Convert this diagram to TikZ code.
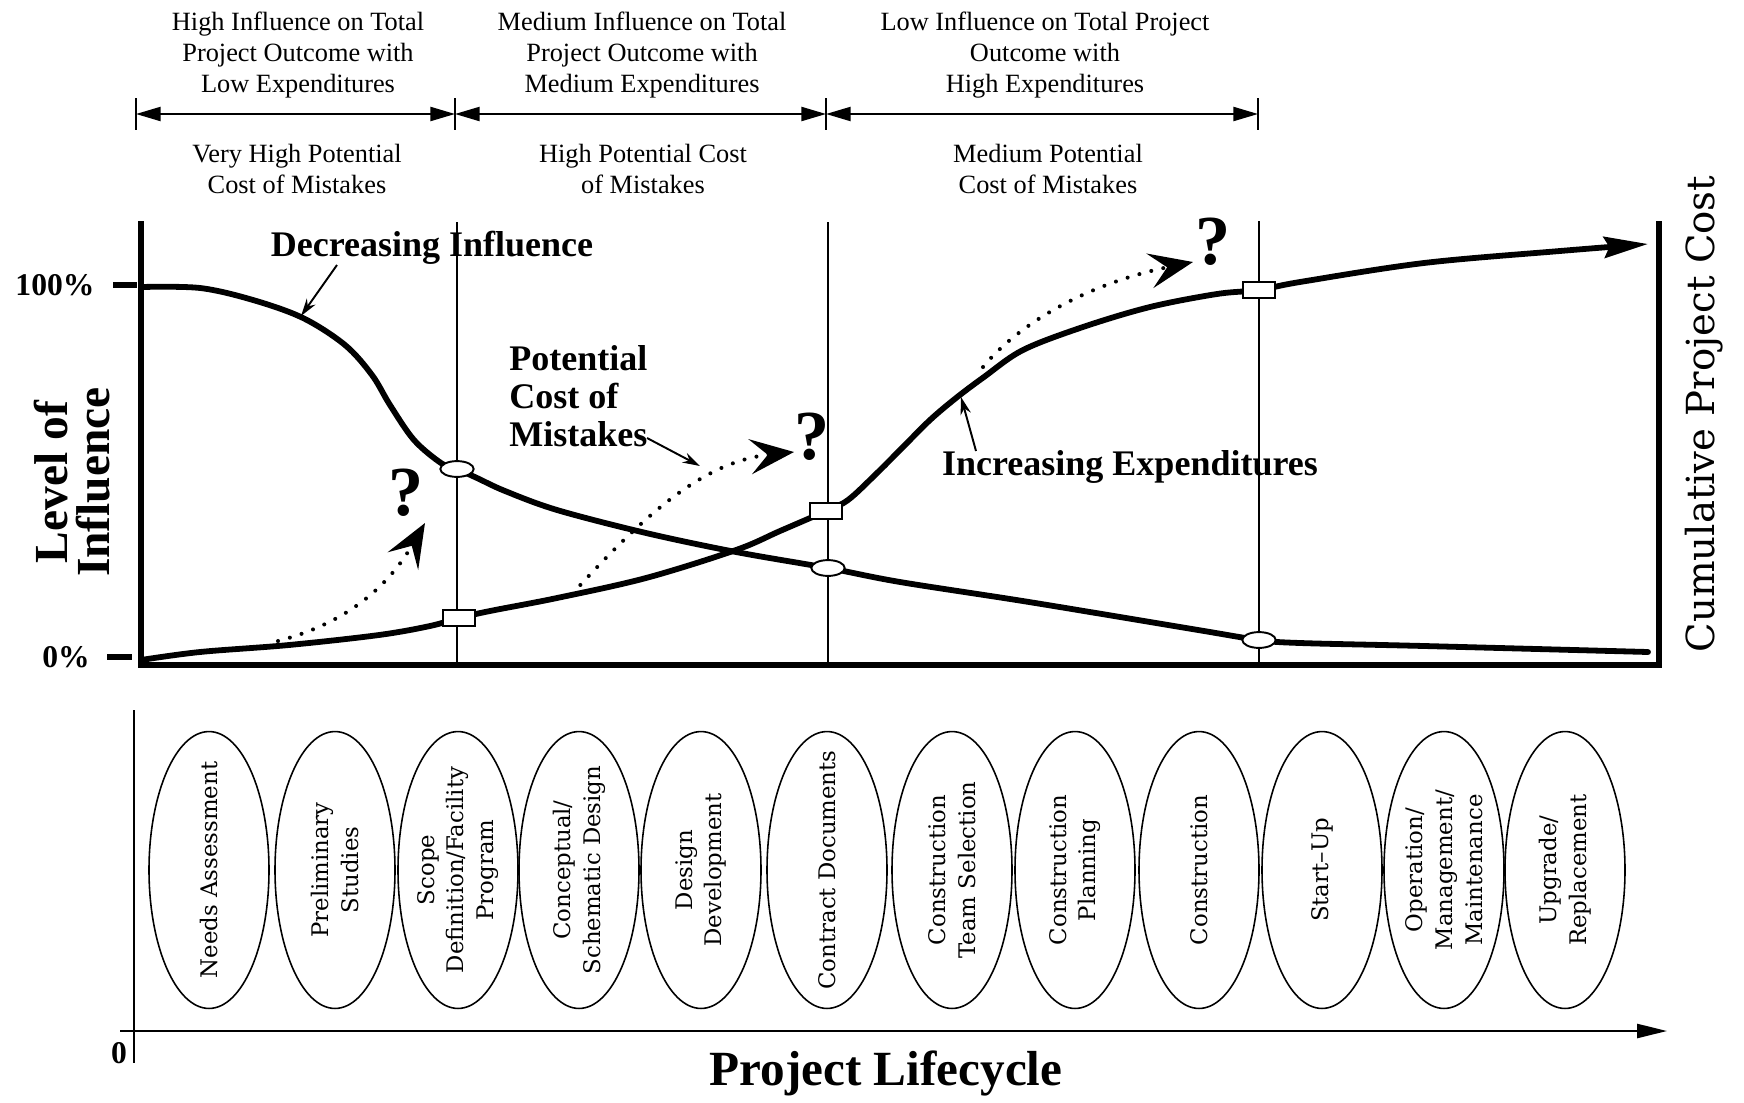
\documentclass[tikz,border=0pt]{standalone}
\usepackage{fontspec}
\setmainfont{Liberation Serif}
\newfontfamily\dvs{DejaVu Serif}
\usetikzlibrary{arrows.meta,shapes.geometric}
\begin{document}
\begin{tikzpicture}[x=0.02cm,y=-0.02cm,
  toptext/.style={align=center,inner sep=0,font=\fontsize{15}{17.6}\selectfont},
  boldlab/.style={inner sep=0,font=\fontsize{20.5}{21.6}\selectfont\bfseries},
  qmark/.style={inner sep=0,font=\fontsize{40}{40}\selectfont\bfseries},
  pctlab/.style={inner sep=0,font=\fontsize{18}{18}\selectfont\bfseries},
  dimtick/.style={line width=1.1pt},
  dimarrow/.style={line width=1.1pt,{Triangle[length=14pt,width=8pt]}-{Triangle[length=14pt,width=8pt]}},
  plotaxis/.style={line width=3pt,line join=miter},
  vline/.style={line width=1.1pt},
  curve/.style={line width=3.3pt,line cap=round,line join=round},
  infmark/.style={ellipse,draw,fill=white,line width=1.1pt,inner sep=0,minimum width=19pt,minimum height=9pt},
  expmark/.style={rectangle,draw,fill=white,line width=1.1pt,inner sep=0,minimum width=18.5pt,minimum height=9pt},
  pointer/.style={line width=1.1pt,-{Stealth[length=10pt,width=6pt]}},
  dotarrow/.style={line width=2.3pt,line cap=round,dash pattern=on 0pt off 7pt,-{Stealth[length=25pt,width=20pt,inset=10pt]}},
  phase/.style={ellipse,draw,line width=0.9pt,inner sep=0,minimum width=68.3pt,minimum height=157.6pt},
  phasetext/.style={rotate=90,align=center,inner sep=0,font=\dvs\fontsize{13}{17}\selectfont},
  thinaxis/.style={line width=1.2pt}
]
\useasboundingbox (0,0) rectangle (1744,1102);

% ---------- top texts ----------
\node[toptext] (h1) at (298,55) {High Influence on Total\\Project Outcome with\\Low Expenditures};
\node[toptext] (h2) at (642,55) {Medium Influence on Total\\Project Outcome with\\Medium Expenditures};
\node[toptext] (h3) at (1045,55) {Low Influence on Total Project\\Outcome with\\High Expenditures};
\node[toptext] (l1) at (297,169) {Very High Potential\\Cost of Mistakes};
\node[toptext] (l2) at (643,169) {High Potential Cost\\of Mistakes};
\node[toptext] (l3) at (1048,169) {Medium Potential\\Cost of Mistakes};

\coordinate (d1) at (136,114);
\coordinate (d2) at (455,114);
\coordinate (d3) at (826,114);
\coordinate (d4) at (1258,114);
\foreach \c in {d1,d2,d3,d4} \draw[dimtick] ([yshift=16*0.02cm]\c) -- ([yshift=-16*0.02cm]\c);
\draw[dimarrow] (d1) -- (d2);
\draw[dimarrow] (d2) -- (d3);
\draw[dimarrow] (d3) -- (d4);

% ---------- upper plot ----------
\draw[vline] (457,222) -- (457,665);
\draw[vline] (828,222) -- (828,665);
\draw[vline] (1259,221) -- (1259,665);
\draw[plotaxis] (141,221) -- (141,665) -- (1659,665) -- (1659,221);
\draw[line width=3pt] (113,285) -- (137,285);
\draw[line width=3pt] (107,657) -- (132,657);
\node[pctlab] (p100) at (55,285) {100\%};
\node[pctlab] (p0) at (66,657) {0\%};

\node[inner sep=0,rotate=90,align=center,font=\fontsize{27}{24}\selectfont\bfseries] (loi) at (72,482) {Level of\\Influence};
\node[inner sep=0,rotate=90,font=\dvs\fontsize{22}{26}\selectfont] (cpc) at (1704,414) {Cumulative Project Cost};

% influence curve
\draw[curve] plot[smooth,tension=0.55] coordinates {(141,287) (200,288) (253,300) (303,318) (345,345) (372,375) (390,405) (414,440) (441,463) (457,469) (477,478) (505,491) (557,510) (646,533) (736,552) (828,568) (900,582) (1029,602) (1198,630) (1259,640) (1300,643) (1424,646) (1648,652)};
% expenditure curve
\draw[curve,-{Stealth[length=25pt,width=12pt,inset=3pt]}] plot[smooth,tension=0.55] coordinates {(141,660) (200,652) (289,645) (379,635) (430,626) (459,618) (490,611) (557,598) (646,578) (736,550) (780,531) (826,511) (848,500) (875,475) (903,447) (930,420) (956,398) (984,377) (1023,350) (1083,327) (1150,307) (1217,294) (1259,290) (1300,282) (1424,263) (1560,251) (1648,244)};

\node[infmark] (m1) at (457,469) {};
\node[infmark] (m2) at (828,568) {};
\node[infmark] (m3) at (1259,640) {};
\node[expmark] (s1) at (459,618) {};
\node[expmark] (s2) at (826,511) {};
\node[expmark] (s3) at (1259,290) {};

% labels and pointers
\node[boldlab] (dec) at (432,248) {Decreasing Influence};
\coordinate (decs) at (337,265);
\coordinate (dece) at (301,316);
\draw[pointer] (decs) -- (dece);

\node[boldlab,align=left,anchor=west] (pcm) at (509,396) {Potential\\Cost of\\Mistakes};
\coordinate (pcms) at (647,438);
\coordinate (pcme) at (700,466);
\draw[pointer] (pcms) -- (pcme);

\node[boldlab] (inc) at (1130,467) {Increasing Expenditures};
\coordinate (incs) at (976,451);
\coordinate (ince) at (961,397);
\draw[pointer] (incs) -- (ince);

\node[qmark] (q1) at (406,493) {?};
\node[qmark] (q2) at (812,437) {?};
\node[qmark] (q3) at (1213,242) {?};

\coordinate (a1s) at (278,641);
\coordinate (a1e) at (425,523);
\draw[dotarrow] (a1s) .. controls (340,625) and (385,592) .. (a1e);
\coordinate (a2s) at (572,594);
\coordinate (a2e) at (794,452);
\draw[dotarrow] (a2s) .. controls (640,520) and (700,462) .. (a2e);
\coordinate (a3s) at (983,367);
\coordinate (a3e) at (1193,262);
\draw[dotarrow] (a3s) .. controls (1020,322) and (1090,283) .. (a3e);

% ---------- lower part ----------
\draw[thinaxis] (134,710) -- (134,1063);
\draw[thinaxis,-{Triangle[length=17pt,width=8pt]}] (120,1031) -- (1667,1031);
\node[pctlab] (zero) at (119,1053) {0};
\node[inner sep=0,font=\fontsize{28}{28}\selectfont\bfseries] (plc) at (886,1073) {Project Lifecycle};

\node[phase] (e1) at (209,870) {};
\node[phase] (e2) at (335,870) {};
\node[phase] (e3) at (458,870) {};
\node[phase] (e4) at (579,870) {};
\node[phase] (e5) at (701,870) {};
\node[phase] (e6) at (827,870) {};
\node[phase] (e7) at (952,870) {};
\node[phase] (e8) at (1075,870) {};
\node[phase] (e9) at (1199,870) {};
\node[phase] (e10) at (1322,870) {};
\node[phase] (e11) at (1444,870) {};
\node[phase] (e12) at (1565,870) {};
\node[phasetext] (t1) at (e1) {Needs Assessment};
\node[phasetext] (t2) at (e2) {Preliminary\\Studies};
\node[phasetext] (t3) at (e3) {Scope\\Definition/Facility\\Program};
\node[phasetext] (t4) at (e4) {Conceptual/\\Schematic Design};
\node[phasetext] (t5) at (e5) {Design\\Development};
\node[phasetext] (t6) at (e6) {Contract Documents};
\node[phasetext] (t7) at (e7) {Construction\\Team Selection};
\node[phasetext] (t8) at (e8) {Construction\\Planning};
\node[phasetext] (t9) at (e9) {Construction};
\node[phasetext] (t10) at (e10) {Start–Up};
\node[phasetext] (t11) at (e11) {Operation/\\Management/\\Maintenance};
\node[phasetext] (t12) at (e12) {Upgrade/\\Replacement};
\end{tikzpicture}
\end{document}
